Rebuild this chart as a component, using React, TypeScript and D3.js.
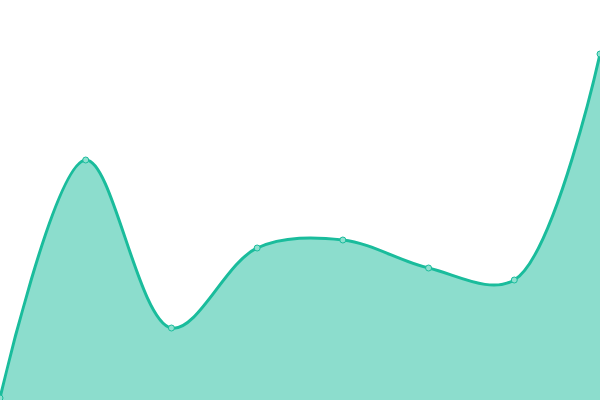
import * as d3 from 'd3';
import { useEffect, useRef } from 'react';

const WIDTH = 600;
const HEIGHT = 400;

// point labels and values
const labels = ['A', 'B', 'C', 'D', 'E', 'F', 'G', 'H'];
const values = [0.5, 60, 18, 38, 40, 33, 30, 86.5];

const LINE_COLOR = '#1abc9c';

export default function App() {
  const svgRef = useRef<SVGSVGElement>(null);

  useEffect(() => {
    if (!svgRef.current) return;
    const svg = d3.select(svgRef.current);
    svg.selectAll('*').remove();

    const x = d3.scalePoint<string>().domain(labels).range([0, WIDTH]);
    const y = d3.scaleLinear().domain([0, 100]).range([HEIGHT, 0]);

    const data = labels.map((l, i) => ({ label: l, value: values[i] }));

    const area = d3
      .area<{ label: string; value: number }>()
      .x((d) => x(d.label) as number)
      .y0(HEIGHT)
      .y1((d) => y(d.value))
      .curve(d3.curveCatmullRom);

    const line = d3
      .line<{ label: string; value: number }>()
      .x((d) => x(d.label) as number)
      .y((d) => y(d.value))
      .curve(d3.curveCatmullRom);

    svg
      .append('path')
      .datum(data)
      .attr('d', area)
      .attr('fill', LINE_COLOR)
      .attr('fill-opacity', 0.5);

    svg
      .append('path')
      .datum(data)
      .attr('d', line)
      .attr('fill', 'none')
      .attr('stroke', LINE_COLOR)
      .attr('stroke-width', 3);

    svg
      .selectAll('circle')
      .data(data)
      .enter()
      .append('circle')
      .attr('cx', (d) => x(d.label) as number)
      .attr('cy', (d) => y(d.value))
      .attr('r', 3)
      .attr('fill', '#8ee0cf')
      .attr('stroke', LINE_COLOR)
      .attr('stroke-width', 1);
  }, []);

  return (
    <div style={{ position: 'fixed', left: 0, top: 0, width: WIDTH, height: HEIGHT, background: '#fff' }}>
      <svg ref={svgRef} width={WIDTH} height={HEIGHT} style={{ display: 'block' }} />
    </div>
  );
}
